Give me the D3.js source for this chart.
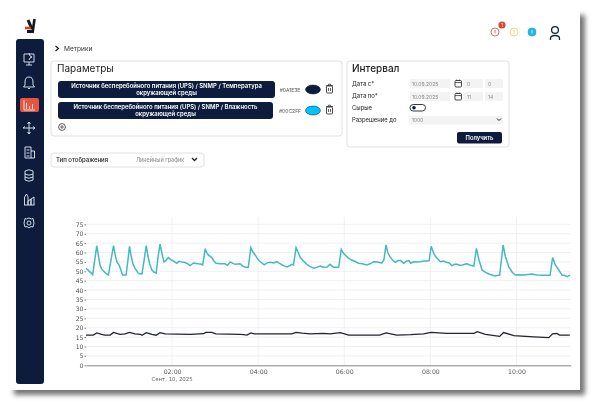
<!DOCTYPE html>
<html>
<head>
<meta charset="utf-8">
<script src="https://cdn.jsdelivr.net/npm/d3@7"></script>
<style>
  html, body { margin: 0; padding: 0; background: #fff; }
  svg { display: block; font-family: Inter, "Noto Sans", sans-serif; }
  .tick text { font-family: "DejaVu Sans", sans-serif; }
</style>
</head>
<body>
<div id="chart"></div>
<script>
// hours since 00:00 on the x axis
var humidityHours = [0,.05,.09,.13,.155,.19,.25,.29,.33,.37,.42,.47,.52,.58,.64,.68,.72,.775,.82,.85,.93,.97,1.01,1.05,1.09,1.14,1.22,1.30,1.35,1.40,1.44,1.48,1.53,1.58,1.63,1.67,1.72,1.76,1.81,1.86,1.91,1.95,1.99,2.05,2.11,2.16,2.22,2.28,2.34,2.42,2.5,2.56,2.61,2.66,2.71,2.77,2.8,2.84,2.92,2.97,3.02,3.12,3.23,3.29,3.35,3.41,3.47,3.58,3.64,3.70,3.77,3.83,3.87,3.93,3.99,4.05,4.14,4.21,4.28,4.36,4.43,4.51,4.59,4.67,4.72,4.78,4.82,4.88,4.93,4.98,5.05,5.13,5.21,5.29,5.36,5.44,5.52,5.60,5.67,5.75,5.87,5.93,5.97,6.02,6.1,6.17,6.25,6.33,6.42,6.52,6.6,6.68,6.78,6.87,6.92,6.97,7.01,7.06,7.12,7.19,7.25,7.31,7.38,7.44,7.5,7.54,7.61,7.69,7.77,7.85,7.92,7.97,8.02,8.07,8.12,8.23,8.3,8.37,8.44,8.5,8.56,8.62,8.68,8.74,8.8,8.85,8.93,9.01,9.07,9.13,9.2,9.28,9.36,9.43,9.49,9.61,9.65,9.69,9.74,9.82,9.9,9.98,10.08,10.17,10.27,10.36,10.48,10.6,10.78,10.84,10.9,10.98,11.06,11.12,11.18,11.24]
var humidityValues = [51.6,50.6,49.7,48.9,48.2,54,63.6,58,53,51,49.8,48.8,48,56,63.6,58.5,55,53,50,48,48,55,63.3,58,54,51.6,48.8,48.6,56,63.6,58,54,50.7,49.6,49,57,64.4,60,55,55.8,57.3,56.6,56,55.2,54.3,55.3,55,54.8,54.3,53,54.4,54.2,54,53.9,53.4,62,60,58.7,57.3,55.5,54.3,54,54,53.2,55,54.2,53.7,54,52.8,52.1,52.1,62.6,60.5,58.7,56.5,55.1,53.4,54.5,54.8,54.4,55.1,54,53,52.3,52.8,53.7,53.4,62.6,60,57.3,55.5,53.7,52.5,51.6,52.1,52.8,52.2,52.3,53.7,52.1,52.1,61.7,60,58.7,57,56,55.2,54.3,54,53.4,54,55.1,54.9,54.3,56,64,60,57.8,56,54.8,55.7,55.7,54.3,55.4,55.7,54.3,55.1,55,55.1,55.5,55.5,55.7,63.3,60,57.8,55.1,55.4,54.8,54.4,53,53.7,53.7,53.2,53.4,53.8,54,53.2,52.8,62.2,56,50.7,49.4,48.6,48,47.5,48,56,64,58,52.5,49.5,48,48.2,48,48.3,48.6,48,47.9,47.9,57.3,53.5,50.7,48,47.8,47.2,48]
var tempHours = [0,.17,.25,.36,.44,.56,.64,.79,.91,1.01,1.14,1.26,1.3,1.4,1.53,1.63,1.72,1.84,2.42,2.73,2.78,2.92,3.02,3.58,3.66,3.74,3.83,3.91,4.78,4.88,5.02,5.21,5.52,5.67,5.91,6.1,6.45,6.82,6.97,7.22,7.54,7.84,8.02,8.38,9.01,9.09,9.28,9.61,9.7,9.94,10.4,10.75,10.84,10.94,11,11.24]
var tempValues = [16,16.1,17.2,16.5,16.1,16.1,17.5,16.5,16.7,17.5,16.7,16.5,16,17.4,16.5,16,17.4,16.7,16.5,16.8,17.5,17.5,16.7,16.5,16.3,16.1,17.2,16.7,16.7,17.5,17.1,16.7,17,16.7,17.4,16.1,16.1,16.1,17.2,16.1,16.3,16.7,17.5,17,17,17.9,16.5,15.4,17.4,15.8,15.1,14.7,16.7,16.9,16.1,16]
var yTicks = d3.range(0, 80, 5)
var xTicks = [2, 4, 6, 8, 10]
var xTickLabels = ["02:00", "04:00", "06:00", "08:00", "10:00"]
var dateLabel = "Сент. 10, 2025"

var params = ["Источник бесперебойного питания (UPS) / SNMP / Температура|окружающей среды",
              "Источник бесперебойного питания (UPS) / SNMP / Влажность|окружающей среды"]
var paramColors = ["#0A1E3E", "#00C2FF"]
var paramHex = ["#0A1E3E", "#00C2FF"]
var formLabels = ["Дата с*", "Дата по*", "Сырые", "Разрешение до"]

var navy = "#0a1e3e"
var width = 600
var height = 410
var svg = d3.select("#chart").append("svg")
    .attr("width", width)
    .attr("height", height)

var defs = svg.append("defs")
var blur = defs.append("filter").attr("id", "shadow").attr("x", "-5%").attr("y", "-5%").attr("width", "110%").attr("height", "110%")
blur.append("feGaussianBlur").attr("stdDeviation", 2.5)
// the reference is a soft screenshot
var soft = defs.append("filter").attr("id", "soft").attr("filterUnits", "userSpaceOnUse")
    .attr("x", 0).attr("y", 0).attr("width", width).attr("height", height)
soft.append("feGaussianBlur").attr("stdDeviation", 0.35)

// page card with its shadow
svg.append("rect").attr("x", 14).attr("y", 15).attr("width", 571).attr("height", 380)
    .attr("fill", "#777").attr("filter", "url(#shadow)")
svg.append("rect").attr("x", 9).attr("y", 9).attr("width", 571).attr("height", 381).attr("fill", "#fff")

var page = svg.append("g").attr("filter", "url(#soft)")

// logo
var logo = page.append("g").attr("fill", "none").attr("stroke-linecap", "butt")
logo.append("path").attr("d", "M28 20 L32 29").attr("stroke", "#15161a").attr("stroke-width", 3)
logo.append("path").attr("d", "M34.5 19 L32.5 33").attr("stroke", "#15161a").attr("stroke-width", 2.6)
logo.append("path").attr("d", "M25 28 H31").attr("stroke", "#c9442e").attr("stroke-width", 2.6)
logo.append("path").attr("d", "M27 31.5 H33").attr("stroke", "#15161a").attr("stroke-width", 3)

// sidebar
page.append("rect").attr("x", 16).attr("y", 39).attr("width", 28).attr("height", 345).attr("rx", 3).attr("fill", navy)
page.append("rect").attr("x", 20).attr("y", 98).attr("width", 19).attr("height", 14).attr("rx", 2).attr("fill", "#e4573d")
var iconPaths = [
  "M24 54 H34 V62 H24 Z M29 62 V65 M26 65 H32 M29 53 L30 56 L32 57 L30 58 L29 60",
  "M29 77 Q25 77 25 82 V85 L23.5 87 H34.5 L33 85 V82 Q33 77 29 77 Z M28 88.5 H30",
  "M24 100 V110 H35 M26.5 109 V103 M29.5 109 V106 M32.5 109 V104",
  "M29 122 V134 M23 128 H35 M29 122 L27.5 124 M29 122 L30.5 124 M35 128 L33 126.5 M35 128 L33 129.5 M29 134 L27.5 132 M29 134 L30.5 132 M23 128 L25 126.5",
  "M25 147 H31 V158 H25 Z M31 151 H34.5 V158 H31 M26.5 150 H29.5 M26.5 153 H29.5 M26.5 156 H29.5",
  "M25 171 Q29 168.5 33 171 V180 Q29 182.5 25 180 Z M25 174 Q29 176.5 33 174 M25 177 Q29 179.5 33 177",
  "M24.5 205 V197 L26.5 194 L28 197 V205 M28 205 V201 L31 199 V205 M31 205 V199 L34 197 V205 M24 205 H34.5",
  "M29 218 L31.5 219 L33 218.5 L33.5 221 L34 223 L33.5 225 L33 227 L31 226.5 L29 228 L27 226.5 L25 227 L24.5 225 L24 223 L24.5 221 L25 218.5 L26.5 219 Z M31 223 A2 2 0 1 1 27 223 A2 2 0 1 1 31 223"
]
page.selectAll(".nav").data(iconPaths).enter().append("path").attr("class", "nav")
    .attr("d", function(d){ return d })
    .attr("fill", "none").attr("stroke", "#e8ecf2").attr("stroke-width", 0.9)

// breadcrumb
page.append("path").attr("d", "M55.5 46 L58.5 48.5 L55.5 51").attr("fill", "none").attr("stroke", "#111").attr("stroke-width", 1.1)
page.append("text").attr("x", 64).attr("y", 51).attr("font-size", 6.6).attr("fill", "#333").text("Метрики")

// top right status icons
var statusX = [495, 514, 532]
var statusColor = ["#c9695c", "#e6d27a", "#1fb5e6"]
page.selectAll(".status").data(statusX).enter().append("circle").attr("class", "status")
    .attr("cx", function(d){ return d }).attr("cy", 32).attr("r", 4)
    .attr("fill", function(d, i){ return i == 2 ? statusColor[i] : "#fff" })
    .attr("stroke", function(d, i){ return statusColor[i] }).attr("stroke-width", 0.9)
page.selectAll(".mark").data(statusX).enter().append("path").attr("class", "mark")
    .attr("d", function(d){ return "M" + d + " 30 V33.5" })
    .attr("stroke", function(d, i){ return i == 2 ? "#fff" : statusColor[i] }).attr("stroke-width", 0.9)
page.append("circle").attr("cx", 502).attr("cy", 25).attr("r", 3.6).attr("fill", "#d9472f")
page.append("text").attr("x", 502).attr("y", 27).attr("text-anchor", "middle").attr("font-size", 5).attr("fill", "#fff").text("1")
page.append("circle").attr("cx", 555).attr("cy", 30).attr("r", 3.4).attr("fill", "none").attr("stroke", "#14213a").attr("stroke-width", 1.3)
page.append("path").attr("d", "M550.5 40 V38.5 Q550.5 35.5 555 35.5 Q559.5 35.5 559.5 38.5 V40").attr("fill", "none").attr("stroke", "#14213a").attr("stroke-width", 1.3)

// cards
function card(x, y, w, h){
    page.append("rect").attr("x", x).attr("y", y).attr("width", w).attr("height", h).attr("rx", 3)
        .attr("fill", "#fff").attr("stroke", "#d8d8d8").attr("stroke-width", 0.8)
}
card(51, 61, 291, 75)
card(347, 61, 162, 86)
card(51, 153, 153, 14)

page.append("text").attr("x", 57).attr("y", 72).attr("font-size", 10).attr("fill", "#222").text("Параметры")
page.append("text").attr("x", 352).attr("y", 72).attr("font-size", 10).attr("font-weight", 500).attr("fill", "#222").text("Интервал")

// parameter rows
var rowY = [81, 102]
var rowW = [217, 215]
var row = page.selectAll(".param").data(params).enter().append("g").attr("class", "param")
    .attr("transform", function(d, i){ return "translate(0," + rowY[i] + ")" })
row.append("rect").attr("x", 58).attr("width", function(d, i){ return rowW[i] }).attr("height", 17).attr("rx", 3).attr("fill", navy)
row.each(function(d, i){
    var g = d3.select(this)
    d.split("|").forEach(function(s, k){
        g.append("text").attr("x", 58 + rowW[i] / 2).attr("y", 6.5 + k * 7.5)
            .attr("text-anchor", "middle").attr("font-size", 5.95).attr("font-weight", 600).attr("fill", "#fff").text(s)
    })
})
row.append("text").attr("x", 290).attr("y", 11).attr("text-anchor", "middle").attr("font-size", 5).attr("fill", "#555")
    .text(function(d, i){ return paramHex[i] })
row.append("ellipse").attr("cx", 313).attr("cy", 8.5).attr("rx", 7.5).attr("ry", 4.5)
    .attr("fill", function(d, i){ return paramColors[i] }).attr("stroke", navy).attr("stroke-width", 0.5)
row.append("rect").attr("x", 326.5).attr("y", 5).attr("width", 6).attr("height", 7).attr("rx", 1)
    .attr("fill", "none").attr("stroke", "#333").attr("stroke-width", 0.9)
row.append("path").attr("d", "M326 4.5 H333 M328.5 7 V10 M330.5 7 V10 M328.5 4.5 V3.2 H330.5 V4.5").attr("fill", "none").attr("stroke", "#333").attr("stroke-width", 0.8)

page.append("circle").attr("cx", 62).attr("cy", 127).attr("r", 3.4).attr("fill", "none").attr("stroke", "#333").attr("stroke-width", 0.8)
page.append("path").attr("d", "M60 127 H64 M62 125 V129").attr("stroke", "#333").attr("stroke-width", 0.7)

// display type
page.append("text").attr("x", 56).attr("y", 162).attr("font-size", 6).attr("font-weight", 500).attr("fill", "#222").text("Тип отображения")
page.append("text").attr("x", 136).attr("y", 161.5).attr("font-size", 5.5).attr("fill", "#888").text("Линейный график")
page.append("path").attr("d", "M192 158 L194.5 160.5 L197 158").attr("fill", "none").attr("stroke", "#222").attr("stroke-width", 1.3)

// interval form
var formY = [86, 98, 110, 122]
page.selectAll(".flabel").data(formLabels).enter().append("text").attr("class", "flabel")
    .attr("x", 352).attr("y", function(d, i){ return formY[i] }).attr("font-size", 5.9).attr("fill", "#222")
    .text(function(d){ return d })
var fieldX = [410, 410, 463, 463, 485, 485]
var fieldY = [79, 92, 79, 92, 79, 92]
var fieldW = [40, 40, 20, 20, 18, 18]
var fieldText = ["10.09.2025", "10.09.2025", "0", "11", "0", "14"]
var fieldTextX = [412, 412, 467, 467, 488, 488]
page.selectAll(".field").data(fieldText).enter().append("rect").attr("class", "field")
    .attr("x", function(d, i){ return fieldX[i] }).attr("y", function(d, i){ return fieldY[i] })
    .attr("width", function(d, i){ return fieldW[i] }).attr("height", 9).attr("fill", "#f3f3f3")
page.selectAll(".ftext").data(fieldText).enter().append("text").attr("class", "ftext")
    .attr("x", function(d, i){ return fieldTextX[i] }).attr("y", function(d, i){ return fieldY[i] + 6.5 })
    .attr("font-size", 5).attr("fill", "#888").text(function(d){ return d })
var cal = page.selectAll(".cal").data([79, 92]).enter().append("g").attr("class", "cal")
    .attr("transform", function(d){ return "translate(455," + d + ")" })
cal.append("rect").attr("y", 1.5).attr("width", 6.5).attr("height", 6.5).attr("rx", 1)
    .attr("fill", "none").attr("stroke", "#333").attr("stroke-width", 0.9)
cal.append("path").attr("d", "M0 3.6 H6.5 M1.8 0.5 V2 M4.7 0.5 V2").attr("stroke", "#333").attr("stroke-width", 0.8)
page.append("rect").attr("x", 410).attr("y", 104.5).attr("width", 15.5).attr("height", 6.5).attr("rx", 3.2)
    .attr("fill", "#fff").attr("stroke", "#222").attr("stroke-width", 0.9)
page.append("circle").attr("cx", 414).attr("cy", 107.8).attr("r", 1.8).attr("fill", navy)
page.append("rect").attr("x", 409).attr("y", 116).attr("width", 94).attr("height", 8.5).attr("fill", "#f3f3f3")
page.append("text").attr("x", 412).attr("y", 122).attr("font-size", 5).attr("fill", "#888").text("1000")
page.append("path").attr("d", "M497 118.5 L499 120.5 L501 118.5").attr("fill", "none").attr("stroke", "#222").attr("stroke-width", 1)
page.append("rect").attr("x", 457).attr("y", 132).attr("width", 45).attr("height", 11.5).attr("rx", 2).attr("fill", navy)
page.append("text").attr("x", 479.5).attr("y", 140.2).attr("text-anchor", "middle").attr("font-size", 5.8).attr("font-weight", 600).attr("fill", "#fff").text("Получить")

// chart
var x = d3.scaleLinear().domain([0, 11.26]).range([86, 570.7])
var y = d3.scaleLinear().domain([0, 75]).range([365.3, 224.3])
var plot = page.append("g")

plot.selectAll(".hgrid").data(yTicks.slice(1)).enter().append("line").attr("class", "hgrid")
    .attr("x1", x(0)).attr("x2", x(11.26))
    .attr("y1", function(d){ return y(d) }).attr("y2", function(d){ return y(d) })
    .attr("stroke", "#ececec").attr("stroke-width", 0.8)
plot.selectAll(".vgrid").data(xTicks).enter().append("line").attr("class", "vgrid")
    .attr("x1", function(d){ return x(d) }).attr("x2", function(d){ return x(d) })
    .attr("y1", 217).attr("y2", y(0))
    .attr("stroke", "#eeeeee").attr("stroke-width", 0.8)

var yAxis = d3.axisLeft(y).tickValues(yTicks).tickSize(1.5).tickPadding(1)
var gy = plot.append("g").attr("transform", "translate(" + x(0) + ",0)").call(yAxis)
gy.select(".domain").remove()
gy.selectAll("text").attr("font-size", 6.2).attr("fill", "#555")
gy.selectAll("line").attr("stroke", "#777")

var xAxis = d3.axisBottom(x).tickValues(xTicks).tickSize(0).tickPadding(4)
    .tickFormat(function(d, i){ return xTickLabels[i] })
var gx = plot.append("g").attr("transform", "translate(0," + y(0) + ")").call(xAxis)
gx.select(".domain").attr("stroke", "#777").attr("stroke-width", 0.9)
gx.selectAll("text").attr("font-size", 6.2).attr("fill", "#555")
plot.append("text").attr("x", x(2)).attr("y", 380.5).attr("text-anchor", "middle")
    .attr("font-family", "DejaVu Sans").attr("font-size", 5.4).attr("fill", "#666").text(dateLabel)

var line = d3.line()
    .x(function(d){ return x(d[0]) })
    .y(function(d){ return y(d[1]) })

plot.append("path").datum(d3.zip(tempHours, tempValues))
    .attr("d", line).attr("fill", "none").attr("stroke", "#20252e").attr("stroke-width", 1.3)
plot.append("path").datum(d3.zip(humidityHours, humidityValues))
    .attr("d", line).attr("fill", "none").attr("stroke", "#45b8c5").attr("stroke-width", 1.5)
</script>
</body>
</html>
